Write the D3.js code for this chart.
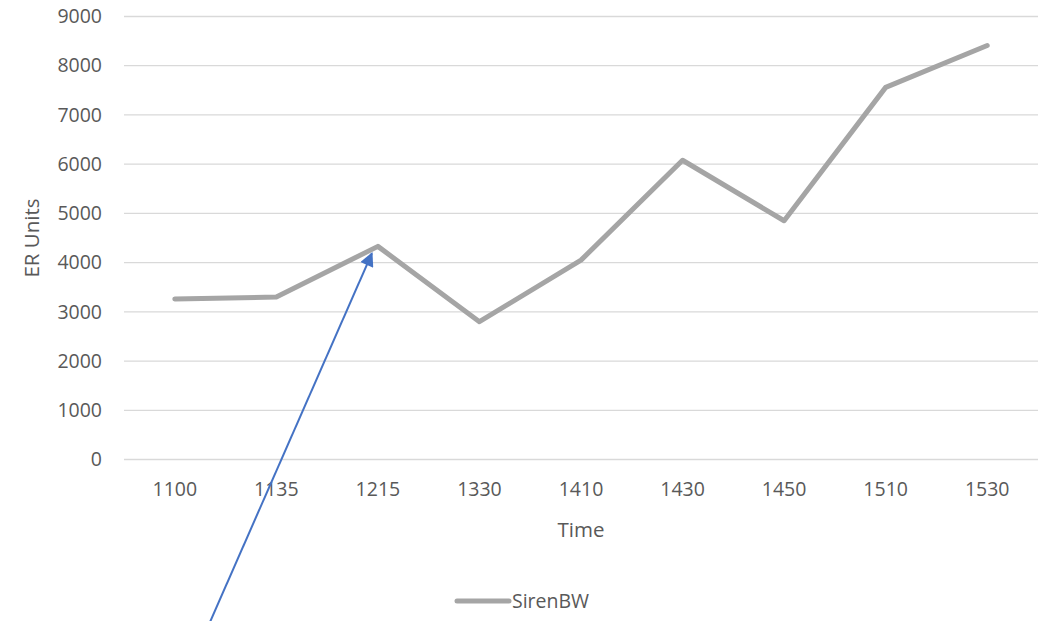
<!DOCTYPE html>
<html>
<head>
<meta charset="utf-8">
<script src="https://cdn.jsdelivr.net/npm/d3@7"></script>
<style>
  body { margin: 0; background: #fff; }
  text { font-family: "Open Sans", "Liberation Sans", sans-serif; fill: #595959; }
</style>
</head>
<body>
<svg id="chart" width="1050" height="621"></svg>
<script>
// data
const times = ["1100", "1135", "1215", "1330", "1410", "1430", "1450", "1510", "1530"];
const sirenBW = [3260, 3300, 4330, 2800, 4050, 6080, 4850, 7560, 8410];
const yTicks = [0, 1000, 2000, 3000, 4000, 5000, 6000, 7000, 8000, 9000];
const seriesName = "SirenBW";
// arrow annotation points at the 1215 value
const arrowFrom = "1215";

const svg = d3.select("#chart");
const plotL = 124, plotR = 1038, plotT = 16.5, plotB = 459.5;

const x = d3.scaleBand().domain(times).range([plotL, plotR]);
const y = d3.scaleLinear().domain([0, 9000]).range([plotB, plotT]);

// grid lines
svg.append("g").selectAll("line").data(yTicks).join("line")
  .attr("x1", plotL).attr("x2", plotR)
  .attr("y1", d => y(d)).attr("y2", d => y(d))
  .attr("stroke", "#d9d9d9").attr("stroke-width", 1.3);

// y axis labels
const yAxis = svg.append("g").attr("transform", `translate(${plotL},0)`)
  .call(d3.axisLeft(y).tickValues(yTicks).tickSize(0).tickPadding(22).tickFormat(d3.format("d")));
yAxis.select(".domain").remove();
yAxis.selectAll("text").style("font-size", "19.5px").attr("fill", "#595959")
  .style("font-family", "'Open Sans', sans-serif");

// x axis labels
const xAxis = svg.append("g").attr("transform", `translate(0,${plotB})`)
  .call(d3.axisBottom(x).tickSize(0).tickPadding(23));
xAxis.select(".domain").remove();
xAxis.selectAll("text").style("font-size", "19.5px").attr("fill", "#595959")
  .style("font-family", "'Open Sans', sans-serif");

// axis titles
svg.append("text").attr("x", (plotL + plotR) / 2).attr("y", 537)
  .attr("text-anchor", "middle").style("font-size", "20.5px").text("Time");
svg.append("text")
  .attr("transform", `translate(39,${(plotT + plotB) / 2}) rotate(-90)`)
  .attr("text-anchor", "middle").style("font-size", "20.5px").text("ER Units");

// series line
const line = d3.line()
  .x((d, i) => x(times[i]) + x.bandwidth() / 2)
  .y(d => y(d));
svg.append("path").datum(sirenBW)
  .attr("d", line)
  .attr("fill", "none").attr("stroke", "#a5a5a5")
  .attr("stroke-width", 5).attr("stroke-linecap", "round").attr("stroke-linejoin", "round");

// legend
svg.append("line").attr("x1", 457).attr("x2", 509).attr("y1", 601).attr("y2", 601)
  .attr("stroke", "#a5a5a5").attr("stroke-width", 5).attr("stroke-linecap", "round");
svg.append("text").attr("x", 512).attr("y", 608).style("font-size", "19.5px").text(seriesName);

// arrow
svg.append("defs").append("marker")
  .attr("id", "head").attr("viewBox", "0 0 10 10")
  .attr("refX", 9).attr("refY", 5)
  .attr("markerWidth", 8).attr("markerHeight", 7)
  .attr("markerUnits", "strokeWidth")
  .attr("orient", "auto")
  .append("path").attr("d", "M0,0 L10,5 L0,10 Z").attr("fill", "#4472c4");

const ai = times.indexOf(arrowFrom);
const tipX = x(arrowFrom) + x.bandwidth() / 2 - 6;
const tipY = y(sirenBW[ai]) + 7;
svg.append("line")
  .attr("x1", 210).attr("y1", 622)
  .attr("x2", tipX).attr("y2", tipY)
  .attr("stroke", "#4472c4").attr("stroke-width", 2)
  .attr("marker-end", "url(#head)");
</script>
</body>
</html>
